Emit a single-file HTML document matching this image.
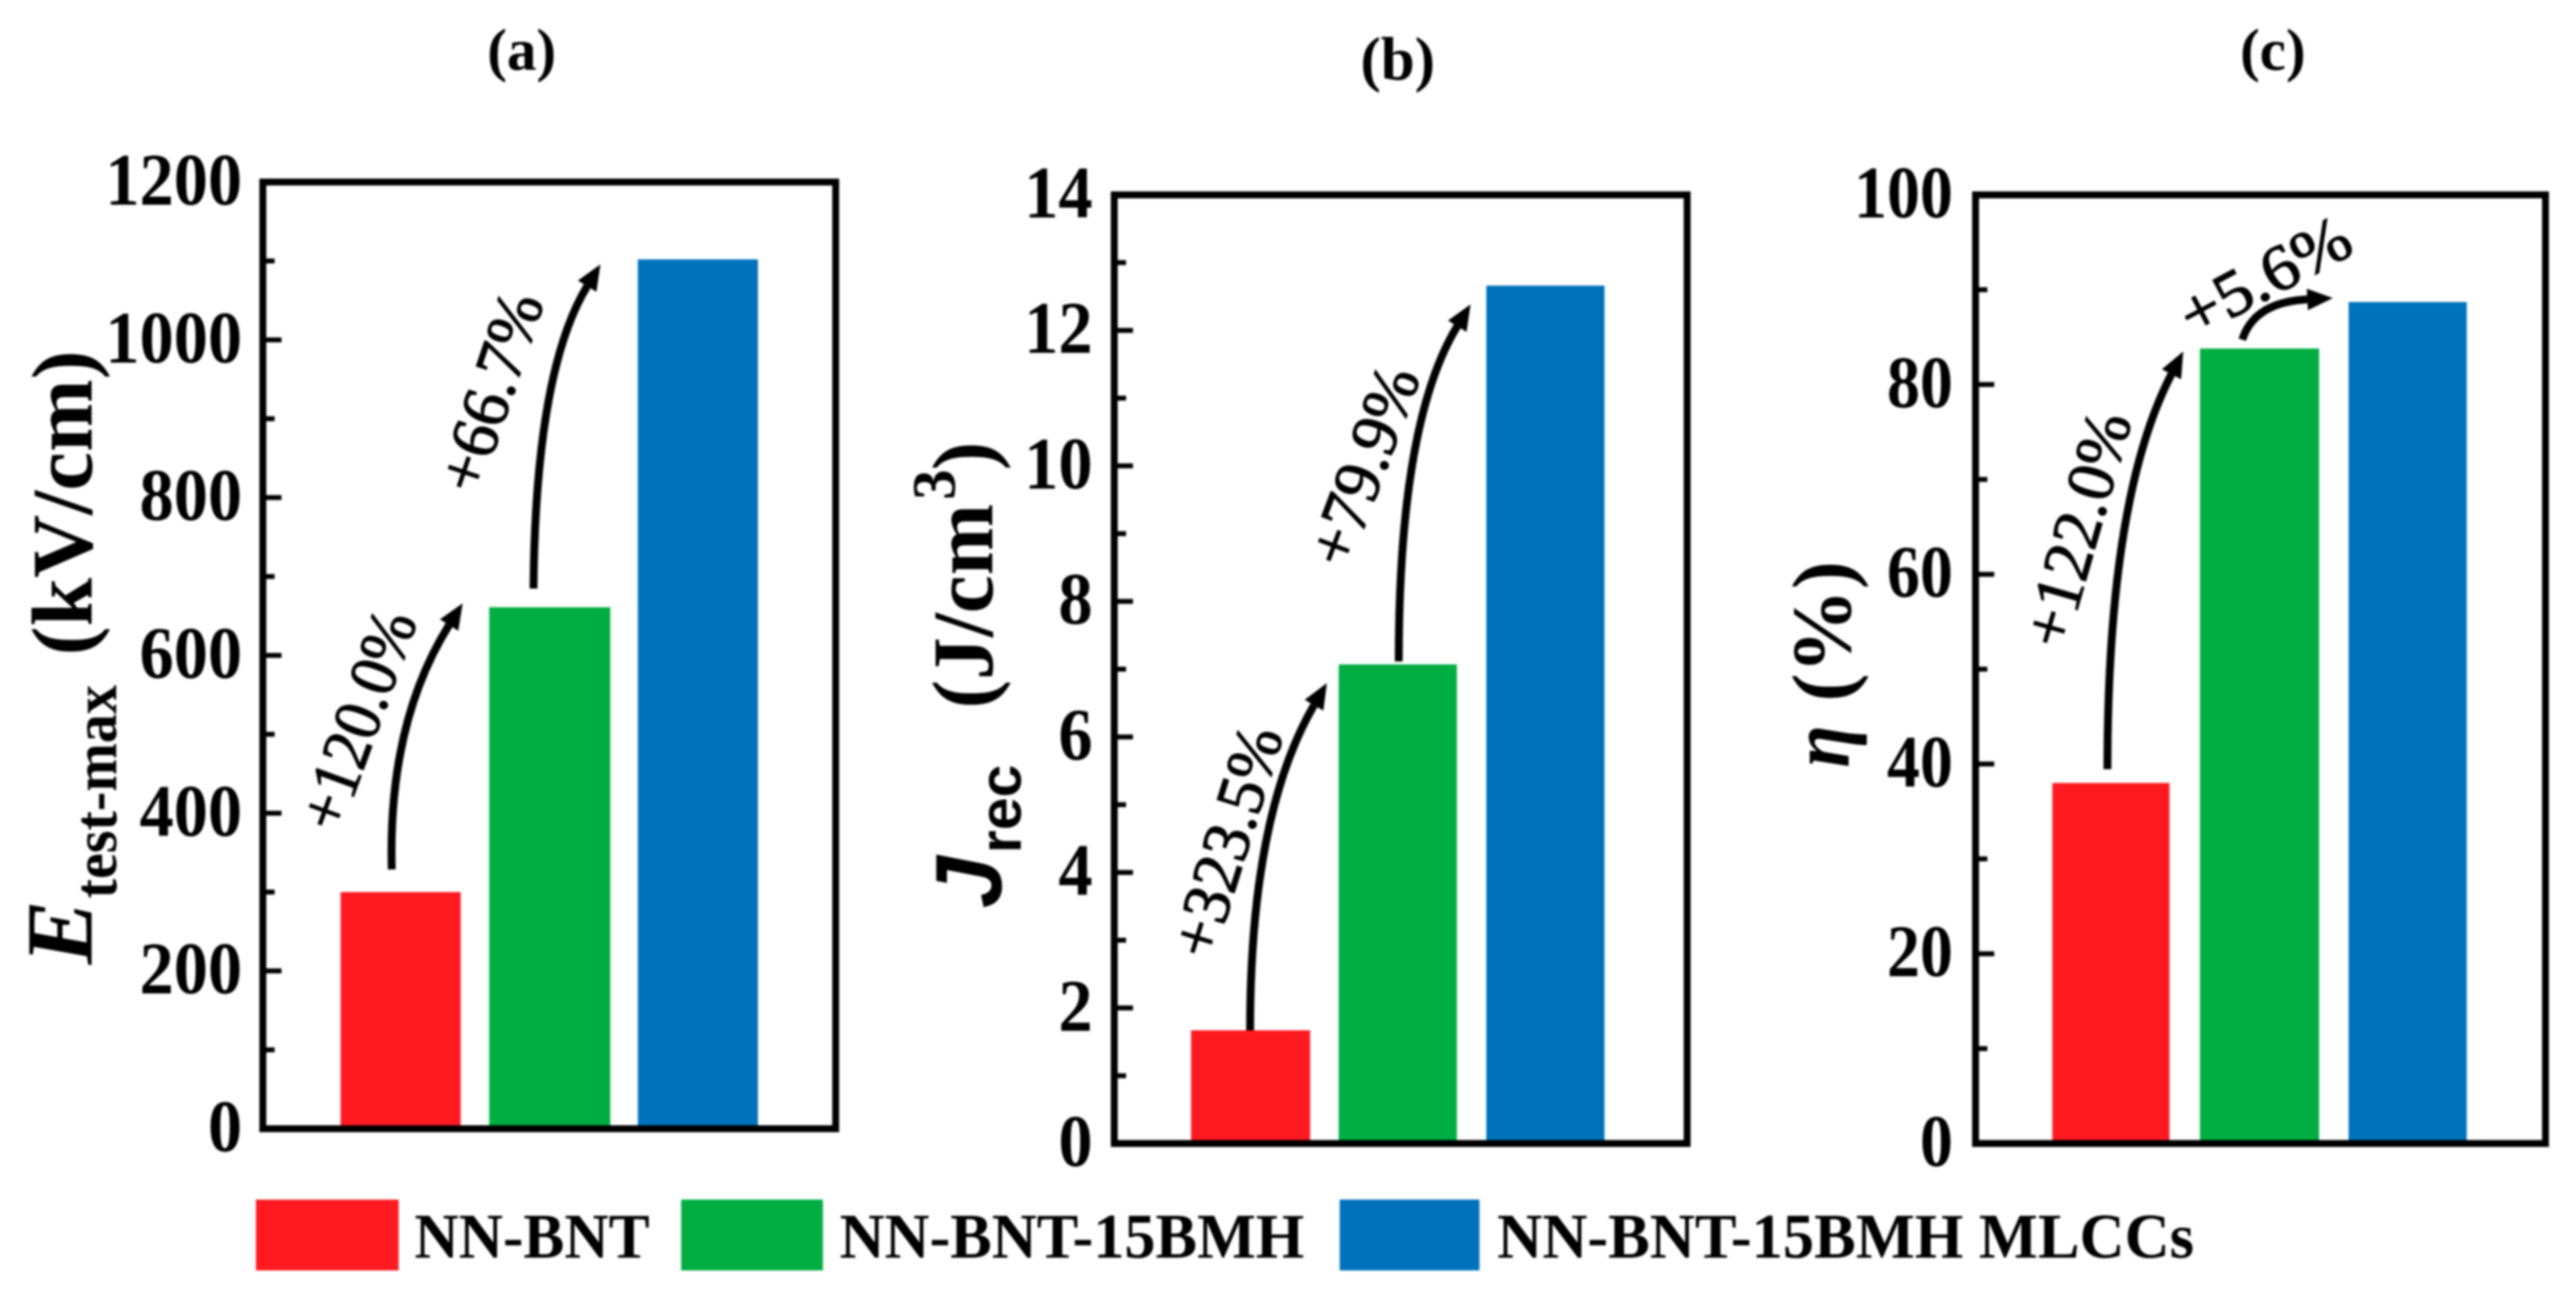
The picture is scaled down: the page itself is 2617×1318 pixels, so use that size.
<!DOCTYPE html>
<html lang="en">
<head>
<meta charset="utf-8">
<title>NN-BNT comparison bar charts</title>
<style>
html,body{margin:0;padding:0;background:#fff;}
body{width:2617px;height:1318px;overflow:hidden;}
svg{display:block;filter:blur(1.1px);}
text{font-family:"Liberation Serif",serif;fill:#000;}
.b{font-weight:bold;}
.bi{font-weight:bold;font-style:italic;}
.growth{stroke:#000;stroke-width:1.2px;}
</style>
</head>
<body>
<svg id="chart" width="2617" height="1318" viewBox="0 0 2617 1318" xmlns="http://www.w3.org/2000/svg">
  <rect width="2617" height="1318" fill="#fff"/>

  <text class="b" x="530" y="71" font-size="60" text-anchor="middle">(a)</text>
  <text class="b" x="1420" y="81" font-size="62" text-anchor="middle">(b)</text>
  <text class="b" x="2309" y="71" font-size="60" text-anchor="middle">(c)</text>

  <g>
    <text class="bi" transform="translate(93,980) rotate(-90)" font-size="96" textLength="65" lengthAdjust="spacingAndGlyphs">E</text>
    <text class="b" transform="translate(118,913) rotate(-90)" font-size="62" textLength="217" lengthAdjust="spacingAndGlyphs">test-max</text>
    <text class="b" transform="translate(93,666) rotate(-90)" font-size="88" textLength="310" lengthAdjust="spacingAndGlyphs">(kV/cm)</text>
  </g>
  <g>
    <text transform="translate(1017,923) rotate(-90)" font-size="96" font-weight="bold" font-style="italic" style="font-family:'Liberation Sans',sans-serif" textLength="53" lengthAdjust="spacingAndGlyphs">J</text>
    <text transform="translate(1037,867) rotate(-90)" font-size="60" font-weight="bold" style="font-family:'Liberation Sans',sans-serif" textLength="90" lengthAdjust="spacingAndGlyphs">rec</text>
    <text class="b" transform="translate(1008,720) rotate(-90)" font-size="88" textLength="208" lengthAdjust="spacingAndGlyphs">(J/cm</text>
    <text class="b" transform="translate(970,508) rotate(-90)" font-size="62">3</text>
    <text class="b" transform="translate(1008,478) rotate(-90)" font-size="88">)</text>
  </g>
  <g>
    <text class="bi" transform="translate(1878,780) rotate(-90)" font-size="86" textLength="43" lengthAdjust="spacingAndGlyphs">η</text>
    <text class="b" transform="translate(1880,713) rotate(-90)" font-size="86" textLength="143" lengthAdjust="spacingAndGlyphs">(%)</text>
  </g>

  <g>
    <g>
      <rect x="260" y="1219" width="145" height="72" fill="#ff1a21"/>
      <text class="b" x="421" y="1278" font-size="65" textLength="239" lengthAdjust="spacingAndGlyphs">NN-BNT</text>
    </g>
    <g>
      <rect x="692" y="1219" width="144" height="72" fill="#00ad41"/>
      <text class="b" x="853" y="1278" font-size="65" textLength="472" lengthAdjust="spacingAndGlyphs">NN-BNT-15BMH</text>
    </g>
    <g>
      <rect x="1361" y="1219" width="142" height="72" fill="#0072bc"/>
      <text class="b" x="1521" y="1278" font-size="65" textLength="708" lengthAdjust="spacingAndGlyphs">NN-BNT-15BMH MLCCs</text>
    </g>
  </g>
</svg>
<script>
// ---- chart data ----
var seriesNames = ["NN-BNT", "NN-BNT-15BMH", "NN-BNT-15BMH MLCCs"];
var seriesColors = ["#ff1a21", "#00ad41", "#0072bc"];
var eTestMaxValues = [300, 661, 1102];
var jRecValues = [1.67, 7.07, 12.66];
var etaValues = [38, 83.8, 88.7];
var eTestMaxTicks = [0, 200, 400, 600, 800, 1000, 1200];
var jRecTicks = [0, 2, 4, 6, 8, 10, 12, 14];
var etaTicks = [0, 20, 40, 60, 80, 100];
var eTestMaxChanges = ["+120.0%", "+66.7%"];
var jRecChanges = ["+323.5%", "+79.9%"];
var etaChanges = ["+122.0%", "+5.6%"];

// ---- layout ----
var NS = "http://www.w3.org/2000/svg";
var root = document.getElementById("chart");

function make(tag, attrs, parent) {
  var el = document.createElementNS(NS, tag);
  for (var k in attrs) { el.setAttribute(k, attrs[k]); }
  parent.appendChild(el);
  return el;
}

function drawPanel(p) {
  var group = make("g", {}, root);
  
  

  var axisMax = p.ticks[p.ticks.length - 1];
  function yScale(v) { return p.bottom - (v / axisMax) * (p.bottom - p.top); }

  // bars
  p.values.forEach(function (v, i) {
    var bar = make("rect", {
      x: p.barX[i][0], y: yScale(v),
      width: p.barX[i][1] - p.barX[i][0],
      height: p.bottom - yScale(v),
      fill: seriesColors[i]
    }, group);
    
    
  });

  // frame
  var frame = make("rect", {
    x: p.left, y: p.top, width: p.right - p.left, height: p.bottom - p.top,
    fill: "none", stroke: "#000", "stroke-width": 7
  }, group);
  
  

  // ticks and labels
  p.ticks.forEach(function (t, i) {
    var y = yScale(t);
    if (i > 0 && i < p.ticks.length - 1) {
      var major = make("line", { x1: p.left, x2: p.left + 19, y1: y, y2: y, stroke: "#000", "stroke-width": 5 }, group);
      
      
    }
    if (i > 0) {
      var minorY = yScale((t + p.ticks[i - 1]) / 2);
      var minor = make("line", { x1: p.left, x2: p.left + 12, y1: minorY, y2: minorY, stroke: "#000", "stroke-width": 5 }, group);
      
      
    }
    var s = String(t);
    var label = make("text", {
      x: p.labelRight, y: y + 23, "text-anchor": "end", "font-size": 75, "class": "b",
      textLength: s.length * p.digitWidth, lengthAdjust: "spacingAndGlyphs"
    }, group);
    
    
    label.textContent = s;
  });

  // growth arrows and their labels
  p.arrows.forEach(function (a, i) {
    var sx = a.sx, sy = yScale(p.values[i]) + a.sdy;
    var ex = a.ex, ey = yScale(p.values[i + 1]) + a.edy;
    var cx = sx + a.cdx, cy = sy + a.bend * (ey - sy);
    var ang = Math.atan2(ey - cy, ex - cx);
    var len = 26, hw = 11;
    var bx = ex - len * Math.cos(ang), by = ey - len * Math.sin(ang);
    var arrow = make("path", {
      d: "M" + sx + " " + sy + " Q" + cx + " " + cy + " " + bx + " " + by,
      fill: "none", stroke: "#000", "stroke-width": 8
    }, group);
    
    
    var nx = -Math.sin(ang), ny = Math.cos(ang);
    var head = make("polygon", {
      points: ex + "," + ey + " " + (bx + nx * hw) + "," + (by + ny * hw) + " " + (bx - nx * hw) + "," + (by - ny * hw),
      fill: "#000"
    }, group);
    
    

    var lx = a.lx, ly = yScale(p.values[i]) + a.ldy;
    var text = make("text", {
      "text-anchor": "middle", "dominant-baseline": "central", "class": "growth",
      "font-size": a.size,
      textLength: a.len, lengthAdjust: "spacingAndGlyphs",
      transform: "translate(" + lx + "," + ly + ") rotate(" + a.rot + ")"
    }, group);
    
    
    text.textContent = p.changes[i];
  });
}

drawPanel({
  id: "a", left: 267, right: 849, top: 185, bottom: 1147,
  labelRight: 246, digitWidth: 34.75,
  values: eTestMaxValues, ticks: eTestMaxTicks, changes: eTestMaxChanges,
  barX: [[346, 468], [497, 620], [648, 770]],
  arrows: [
    { sx: 398, sdy: -23, ex: 470, edy: -4, cdx: -4, bend: 0.55, lx: 363, ldy: -175, rot: -70, size: 68, len: 232 },
    { sx: 542, sdy: -19, ex: 610, edy: 5, cdx: 2, bend: 0.67, lx: 498, ldy: -219, rot: -71.5, size: 68, len: 209 }
  ]
});

drawPanel({
  id: "b", left: 1132, right: 1714, top: 198, bottom: 1162,
  labelRight: 1110, digitWidth: 34.75,
  values: jRecValues, ticks: jRecTicks, changes: jRecChanges,
  barX: [[1210, 1331], [1360, 1480], [1510, 1630]],
  arrows: [
    { sx: 1270, sdy: 0, ex: 1348, edy: 19, cdx: 0, bend: 0.62, lx: 1246, ldy: -192, rot: -72.7, size: 68, len: 242 },
    { sx: 1421, sdy: -3, ex: 1494, edy: 19, cdx: 0, bend: 0.67, lx: 1385, ldy: -202, rot: -69.5, size: 68, len: 211 }
  ]
});

drawPanel({
  id: "c", left: 2007, right: 2586, top: 198, bottom: 1162,
  labelRight: 1984, digitWidth: 33.5,
  values: etaValues, ticks: etaTicks, changes: etaChanges,
  barX: [[2085, 2204], [2235, 2356], [2386, 2506]],
  arrows: [
    { sx: 2141, sdy: -14, ex: 2218, edy: 3, cdx: 0, bend: 0.65, lx: 2110, ldy: -258, rot: -74, size: 68, len: 245 },
    { sx: 2278, sdy: -9, ex: 2370, edy: -4, cdx: 12, bend: 0.9, lx: 2301, ldy: -73, rot: -28, size: 66, len: 188 }
  ]
});
</script>
</body>
</html>
